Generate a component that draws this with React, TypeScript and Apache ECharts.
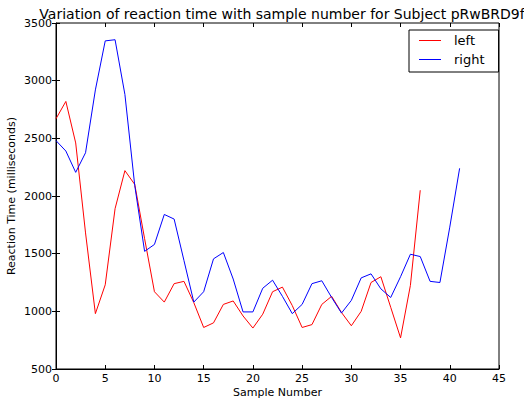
import React, { useEffect, useRef } from "react";
import * as echarts from "echarts";

const titleText = "Variation of reaction time with sample number for Subject pRwBRD9f";
const xName = "Sample Number";
const yName = "Reaction Time (milliseconds)";
const seriesNames = ["left", "right"];

const leftValues = [
  2670, 2820, 2460, 1680, 980, 1230, 1890, 2220, 2100, 1630, 1170, 1080, 1240, 1260, 1075,
  860, 900, 1060, 1090, 960, 855, 975, 1170, 1210, 1050, 860, 885, 1060, 1130, 990, 875,
  1000, 1250, 1300, 1035, 770, 1225, 2050,
];
const rightValues = [
  2480, 2390, 2205, 2375, 2920, 3345, 3355, 2880, 2090, 1520, 1580, 1840, 1800, 1440, 1080,
  1170, 1455, 1510, 1280, 995, 995, 1200, 1270, 1130, 980, 1060, 1240, 1265, 1120, 985,
  1095, 1290, 1325, 1195, 1120, 1300, 1495, 1475, 1260, 1250, 1730, 2240,
];

const FONT = "DejaVu Sans";

export default function App() {
  const ref = useRef<HTMLDivElement>(null);
  useEffect(() => {
    if (!ref.current) return;
    const chart = echarts.init(ref.current, null, { renderer: "svg" });
    const tickCommon = { show: true, inside: true, length: 4, lineStyle: { color: "#000", width: 1 } };
    const plain = (v: number) => String(v);
    chart.setOption({
      animation: false,
      backgroundColor: "#fff",
      title: {
        text: titleText,
        left: 277,
        textAlign: "center",
        top: 2,
        textStyle: { fontFamily: FONT, fontSize: 14, fontWeight: "normal", color: "#000" },
      },
      legend: {
        data: seriesNames,
        orient: "vertical",
        left: 409,
        top: 30,
        padding: [4, 14, 6, 10],
        itemGap: 6,
        itemWidth: 22,
        itemHeight: 1,
        icon: "rect",
        borderColor: "#000",
        borderWidth: 1,
        backgroundColor: "#fff",
        textStyle: { fontFamily: FONT, fontSize: 13, color: "#000", padding: [0, 0, 0, 8] },
      },
      grid: {
        left: 56,
        right: 25,
        top: 23,
        bottom: 30,
        show: true,
        borderColor: "#000",
        borderWidth: 1,
        backgroundColor: "transparent",
        containLabel: false,
        outerBoundsMode: "none",
      },
      xAxis: [
        {
          type: "value",
          min: 0,
          max: 45,
          interval: 5,
          name: xName,
          nameLocation: "middle",
          nameGap: 18,
          nameMoveOverlap: false,
          nameTextStyle: { fontFamily: FONT, fontSize: 11, color: "#000" },
          axisLine: { show: true, lineStyle: { color: "#000" } },
          axisTick: tickCommon,
          axisLabel: { fontFamily: FONT, fontSize: 11, color: "#000", margin: 4, formatter: plain },
          splitLine: { show: false },
        },
        {
          type: "value",
          position: "top",
          min: 0,
          max: 45,
          interval: 5,
          axisLine: { show: false },
          axisTick: tickCommon,
          axisLabel: { show: false },
          splitLine: { show: false },
        },
      ],
      yAxis: [
        {
          type: "value",
          min: 500,
          max: 3500,
          interval: 500,
          name: yName,
          nameLocation: "middle",
          nameGap: 39,
          nameMoveOverlap: false,
          nameRotate: 90,
          nameTextStyle: { fontFamily: FONT, fontSize: 11, color: "#000" },
          axisLine: { show: true, lineStyle: { color: "#000" } },
          axisTick: tickCommon,
          axisLabel: { fontFamily: FONT, fontSize: 11, color: "#000", margin: 4, formatter: plain },
          splitLine: { show: false },
        },
        {
          type: "value",
          position: "right",
          min: 500,
          max: 3500,
          interval: 500,
          axisLine: { show: false },
          axisTick: tickCommon,
          axisLabel: { show: false },
          splitLine: { show: false },
        },
      ],
      series: [
        {
          name: seriesNames[0],
          type: "line",
          data: leftValues.map((v, i) => [i, v]),
          showSymbol: false,
          symbol: "none",
          color: "#ff0000",
          lineStyle: { color: "#ff0000", width: 1 },
        },
        {
          name: seriesNames[1],
          type: "line",
          data: rightValues.map((v, i) => [i, v]),
          showSymbol: false,
          symbol: "none",
          color: "#0000ff",
          lineStyle: { color: "#0000ff", width: 1 },
        },
      ],
    });
    return () => chart.dispose();
  }, []);
  return (
    <div
      ref={ref}
      style={{ position: "fixed", left: 0, top: 0, width: 524, height: 399, background: "#fff" }}
    />
  );
}
